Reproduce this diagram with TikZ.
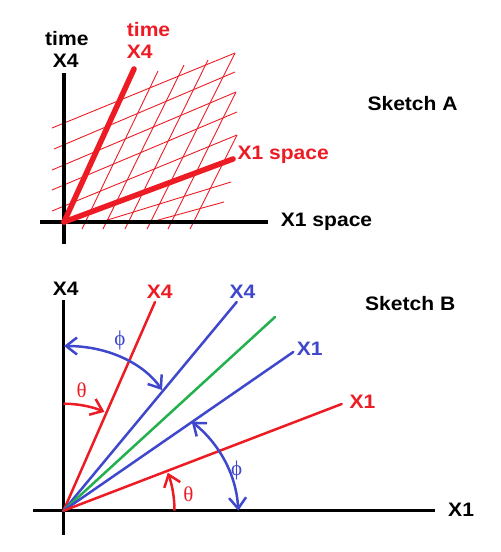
\documentclass[tikz,border=0pt]{standalone}
\usepackage{fontspec}
\setmainfont{Liberation Sans}[FakeStretch=1.08]
\newfontfamily\greekfont{Liberation Serif}
\usetikzlibrary{arrows.meta}
\definecolor{pred}{HTML}{ED1C24}
\definecolor{pblue}{HTML}{3F48CC}
\definecolor{pgreen}{HTML}{22B14C}
\begin{document}
\begin{tikzpicture}[x=1pt,y=-1pt,
  lbl/.style={font=\fontsize{19.5}{20}\selectfont\bfseries, inner sep=0pt, anchor=base west},
  glbl/.style={font=\fontsize{21}{22}\selectfont\greekfont, inner sep=0pt},
  axisline/.style={line width=3.2pt, black},
  gridline/.style={line width=0.9pt, pred},
  boldray/.style={line width=5.5pt, pred, line cap=round},
  ray/.style={line width=2.5pt, line cap=round},
  barb/.style={-{Straight Barb[length=11pt,width=17pt]}},
  dbarb/.style={{Straight Barb[length=11pt,width=17pt]}-{Straight Barb[length=11pt,width=17pt]}},
]
\useasboundingbox (0,0) rectangle (501,552);
% ---------------- Sketch A ----------------
\coordinate (OA) at (64,222);
\coordinate (Atop) at (64,73);
\coordinate (Abot) at (64,244);
\coordinate (Aleft) at (40,222);
\coordinate (Aright) at (268,222);
\coordinate (AX4) at (134,69);
\coordinate (AX1) at (233,159);
% grid parallel to X1
\draw[gridline] (52,128) -- (235,53);
\draw[gridline] (54,149) -- (235,72);
\draw[gridline] (52,170) -- (236,92);
\draw[gridline] (52,190) -- (237,112);
\draw[gridline] (52,211) -- (237,135);
\draw[gridline] (101,222) -- (231,182);
\draw[gridline] (151,222) -- (224,202);
% grid parallel to X4
\draw[gridline] (82,229) -- (158,71);
\draw[gridline] (103,229) -- (184,65);
\draw[gridline] (125,229) -- (208,60);
\draw[gridline] (147,229) -- (235,53);
\draw[gridline] (168,229) -- (236,92);
\draw[gridline] (190,229) -- (237,135);
% axes
\draw[axisline] (Atop) -- (Abot);
\draw[axisline] (Aleft) -- (Aright);
% thick red axes
\draw[boldray] (OA) -- (AX4);
\draw[boldray] (OA) -- (AX1);
% labels
\node[lbl] (tA) at (45,45) {time};
\node[lbl] (x4A) at (52.7,67) {X4};
\node[lbl, pred] (rtA) at (126.7,36.7) {time};
\node[lbl, pred] (rx4A) at (126.7,58.3) {X4};
\node[lbl, pred] (rx1A) at (237.3,159) {X1 space};
\node[lbl] (x1A) at (280.7,226.7) {X1 space};
\node[lbl] (skA) at (367.3,110) {Sketch A};
% ---------------- Sketch B ----------------
\coordinate (OB) at (63.5,510.7);
\coordinate (Btop) at (63.5,300);
\coordinate (Bbot) at (63.5,535);
\coordinate (Bleft) at (33,510.7);
\coordinate (Bright) at (435,510.7);
\coordinate (rX4) at (155,302);
\coordinate (bX4) at (236.7,302);
\coordinate (gL) at (275,317);
\coordinate (bX1) at (293.3,352);
\coordinate (rX1) at (341.7,404);
\draw[axisline] (Btop) -- (Bbot);
\draw[axisline] (Bleft) -- (Bright);
\draw[ray, pred] (OB) -- (rX4);
\draw[ray, pblue] (OB) -- (bX4);
\draw[ray, pgreen] (OB) -- (gL);
\draw[ray, pblue] (OB) -- (bX1);
\draw[ray, pred] (OB) -- (rX1);
% arcs
\draw[line width=2.5pt, pblue, dbarb] (64,346) .. controls (110,346) and (145,365) .. (162,390);
\draw[line width=2.5pt, pred, barb] (OB) ++(-90:107) arc[start angle=-90, end angle=-67.5, radius=107];
\draw[line width=2.5pt, pred, barb] (OB) ++(0:111) arc[start angle=0, end angle=-20, radius=111];
\draw[line width=2.5pt, pblue, dbarb] (191.7,421.7) .. controls (215,440) and (236,470) .. (238.3,510.7);
% labels
\node[lbl] (x4B) at (52.7,295) {X4};
\node[lbl, pred] (rx4B) at (146.7,298) {X4};
\node[lbl, pblue] (bx4B) at (229.3,298) {X4};
\node[lbl, pblue] (bx1B) at (296.7,355) {X1};
\node[lbl, pred] (rx1B) at (349.3,408) {X1};
\node[lbl] (skB) at (365,310) {Sketch B};
\node[lbl] (x1B) at (448,516.7) {X1};
\node[glbl, pblue] (phi1) at (120,340) {ϕ};
\node[glbl, pred] (th1) at (81.7,390) {θ};
\node[glbl, pblue] (phi2) at (236.7,470) {ϕ};
\node[glbl, pred] (th2) at (188.3,494) {θ};
\end{tikzpicture}
\end{document}
